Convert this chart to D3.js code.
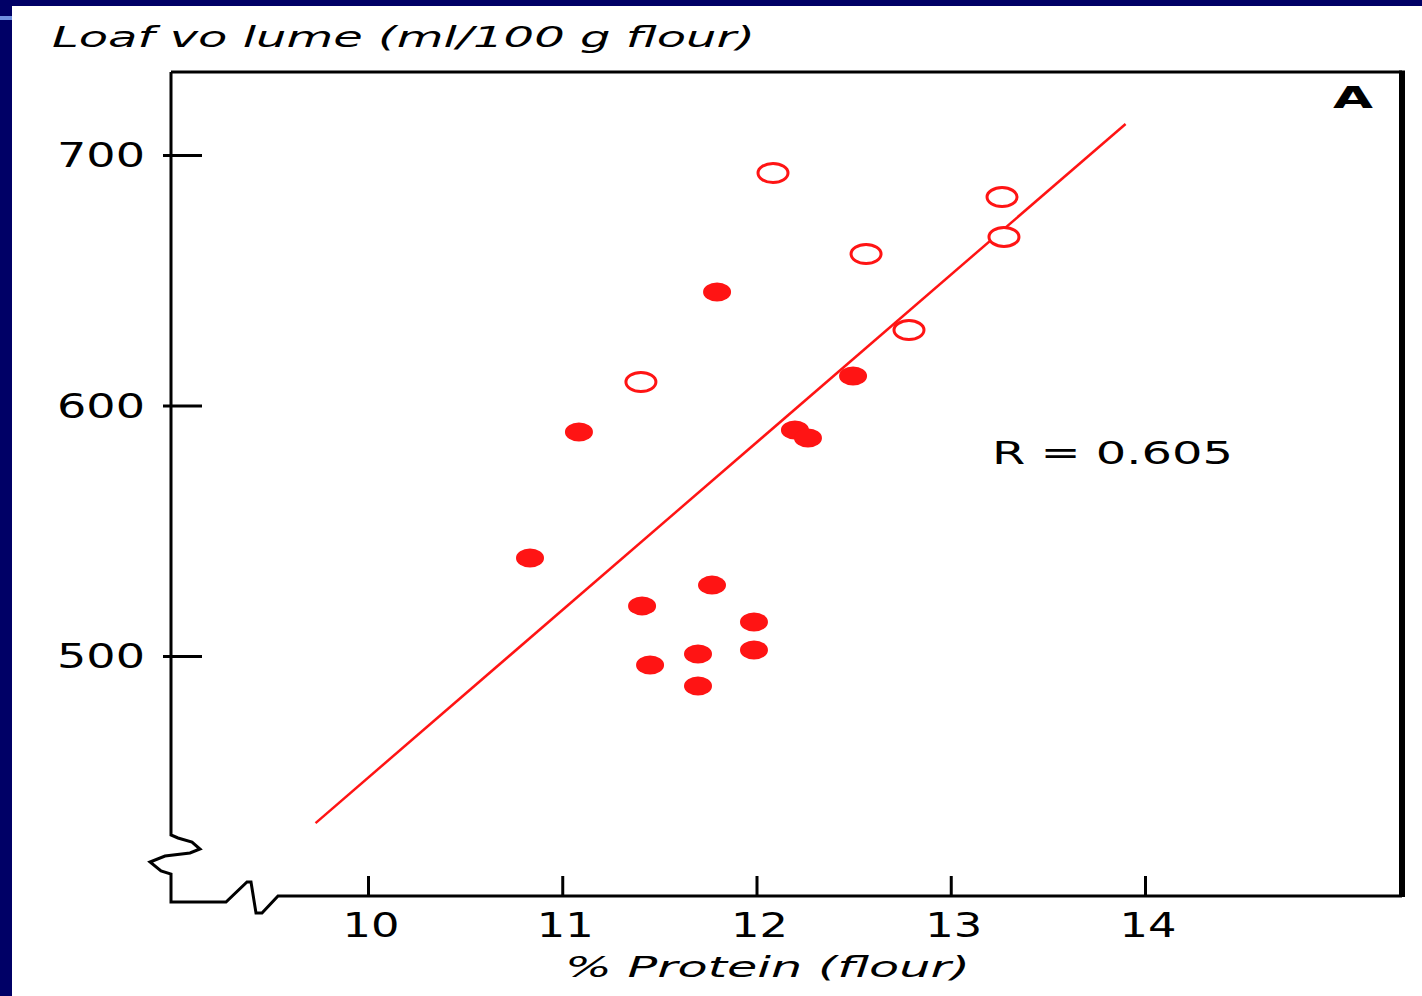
<!DOCTYPE html>
<html>
<head>
<meta charset="utf-8">
<script src="https://cdn.jsdelivr.net/npm/d3@7"></script>
<style>
  html, body { margin: 0; padding: 0; background: #fff; }
  svg { display: block; }
</style>
</head>
<body>
<div id="chart"></div>
<script>
// data
const openX = [12.085, 13.264, 13.274, 12.564, 12.785, 11.405];
const openY = [692.8, 683.2, 667.3, 660.5, 630.1, 609.4];

const filledX = [11.797, 11.086, 12.497, 12.198, 12.265, 10.834, 11.771, 11.411, 11.987, 11.987, 11.699, 11.452, 11.699];
const filledY = [645.3, 589.4, 611.8, 590.2, 587.0, 539.1, 528.3, 520.0, 513.6, 502.4, 500.8, 496.4, 488.0];

const fitX = [9.73, 13.9];
const fitY = [433.3, 712.4];

const xTicks = [10, 11, 12, 13, 14];
const yTicks = [500, 600, 700];

const W = 1422, H = 996;
const frame = { left: 171, top: 72, right: 1402, axisY: 895, bottom: 902 };
const red = "#ff1414";
const font = "'DejaVu Sans', sans-serif";

const svg = d3.select("#chart").append("svg")
    .attr("width", W)
    .attr("height", H);

// slide background with the navy edges
svg.append("rect").attr("width", W).attr("height", H).attr("fill", "#fff");
svg.append("rect").attr("width", W).attr("height", 6).attr("fill", "#000066");
svg.append("rect").attr("width", 12).attr("height", H).attr("fill", "#000066");
svg.append("rect").attr("y", 16).attr("width", 12).attr("height", 4).attr("fill", "#6f8fe0");

const x = d3.scaleLinear().domain([10, 14]).range([368, 1145]);
const y = d3.scaleLinear().domain([500, 700]).range([656, 155]);

// frame with the two axis breaks
const L = frame.left, B = frame.bottom, A = frame.axisY;
const framePath = [
    `M${L},${frame.top} H${frame.right}`,
    `M${L},${frame.top} V835 L${L + 7},838 L${L + 21},842 L${L + 29},849 L${L + 19},853`,
    `L${L - 6},856 L${L - 21},862 L${L - 10},871 L${L},874 V${B} H226`,
    `L247,882 L251,882 L256,913 L262,913 L278,${A + 1} H${frame.right}`
].join(" ");

svg.append("path")
    .attr("d", framePath)
    .attr("fill", "none")
    .attr("stroke", "#000")
    .attr("stroke-width", 3)
    .attr("stroke-linejoin", "miter");

svg.append("line")
    .attr("x1", frame.right).attr("x2", frame.right)
    .attr("y1", frame.top - 1.5).attr("y2", A + 2)
    .attr("stroke", "#000")
    .attr("stroke-width", 6);

// y axis: ticks cross the axis line
const yAxis = svg.append("g")
    .attr("transform", `translate(${L},0)`)
    .call(d3.axisLeft(y).tickValues(yTicks).tickSize(0).tickFormat(""));
yAxis.select(".domain").remove();
yAxis.selectAll(".tick line")
    .attr("x1", -8).attr("x2", 31)
    .attr("stroke", "#000").attr("stroke-width", 3);

svg.selectAll(".ylab")
    .data(yTicks)
    .enter().append("text")
    .attr("class", "ylab")
    .attr("x", 145)
    .attr("y", d => y(d) + 12)
    .attr("text-anchor", "end")
    .attr("textLength", 88)
    .attr("lengthAdjust", "spacingAndGlyphs")
    .style("font-family", font)
    .style("font-size", "33px")
    .text(d => d);

// x axis: ticks point inward
const xAxis = svg.append("g")
    .attr("transform", `translate(0,${A})`)
    .call(d3.axisBottom(x).tickValues(xTicks).tickSize(-19).tickFormat(""));
xAxis.select(".domain").remove();
xAxis.selectAll(".tick line")
    .attr("stroke", "#000").attr("stroke-width", 3);

svg.selectAll(".xlab")
    .data(xTicks)
    .enter().append("text")
    .attr("class", "xlab")
    .attr("x", d => x(d) + 3)
    .attr("y", 937)
    .attr("text-anchor", "middle")
    .attr("textLength", 57)
    .attr("lengthAdjust", "spacingAndGlyphs")
    .style("font-family", font)
    .style("font-size", "34px")
    .text(d => d);

// regression line
svg.append("line")
    .attr("x1", x(fitX[0])).attr("y1", y(fitY[0]))
    .attr("x2", x(fitX[1])).attr("y2", y(fitY[1]))
    .attr("stroke", red)
    .attr("stroke-width", 2.5);

// filled points
svg.selectAll(".dot")
    .data(filledX.map((v, i) => ({ x: v, y: filledY[i] })))
    .enter().append("ellipse")
    .attr("class", "dot")
    .attr("cx", d => x(d.x))
    .attr("cy", d => y(d.y))
    .attr("rx", 14)
    .attr("ry", 9.5)
    .attr("fill", red);

// open points
svg.selectAll(".ring")
    .data(openX.map((v, i) => ({ x: v, y: openY[i] })))
    .enter().append("ellipse")
    .attr("class", "ring")
    .attr("cx", d => x(d.x))
    .attr("cy", d => y(d.y))
    .attr("rx", 15)
    .attr("ry", 9.5)
    .attr("fill", "#fff")
    .attr("stroke", red)
    .attr("stroke-width", 3);

// titles and notes
svg.append("text")
    .text("Loaf vo lume (ml/100 g flour)")
    .attr("x", 52)
    .attr("y", 47)
    .attr("textLength", 703)
    .attr("lengthAdjust", "spacingAndGlyphs")
    .style("font-family", font)
    .style("font-style", "italic")
    .style("font-size", "28px");

svg.append("text")
    .text("% Protein (flour)")
    .attr("x", 565)
    .attr("y", 977)
    .attr("textLength", 405)
    .attr("lengthAdjust", "spacingAndGlyphs")
    .style("font-family", font)
    .style("font-style", "italic")
    .style("font-size", "28px");

svg.append("text")
    .text("R = 0.605")
    .attr("x", 992)
    .attr("y", 464)
    .attr("textLength", 241)
    .attr("lengthAdjust", "spacingAndGlyphs")
    .style("font-family", font)
    .style("font-size", "32px");

svg.append("text")
    .text("A")
    .attr("x", 1333)
    .attr("y", 108)
    .attr("textLength", 40)
    .attr("lengthAdjust", "spacingAndGlyphs")
    .style("font-family", font)
    .style("font-weight", "bold")
    .style("font-size", "30px");
</script>
</body>
</html>
